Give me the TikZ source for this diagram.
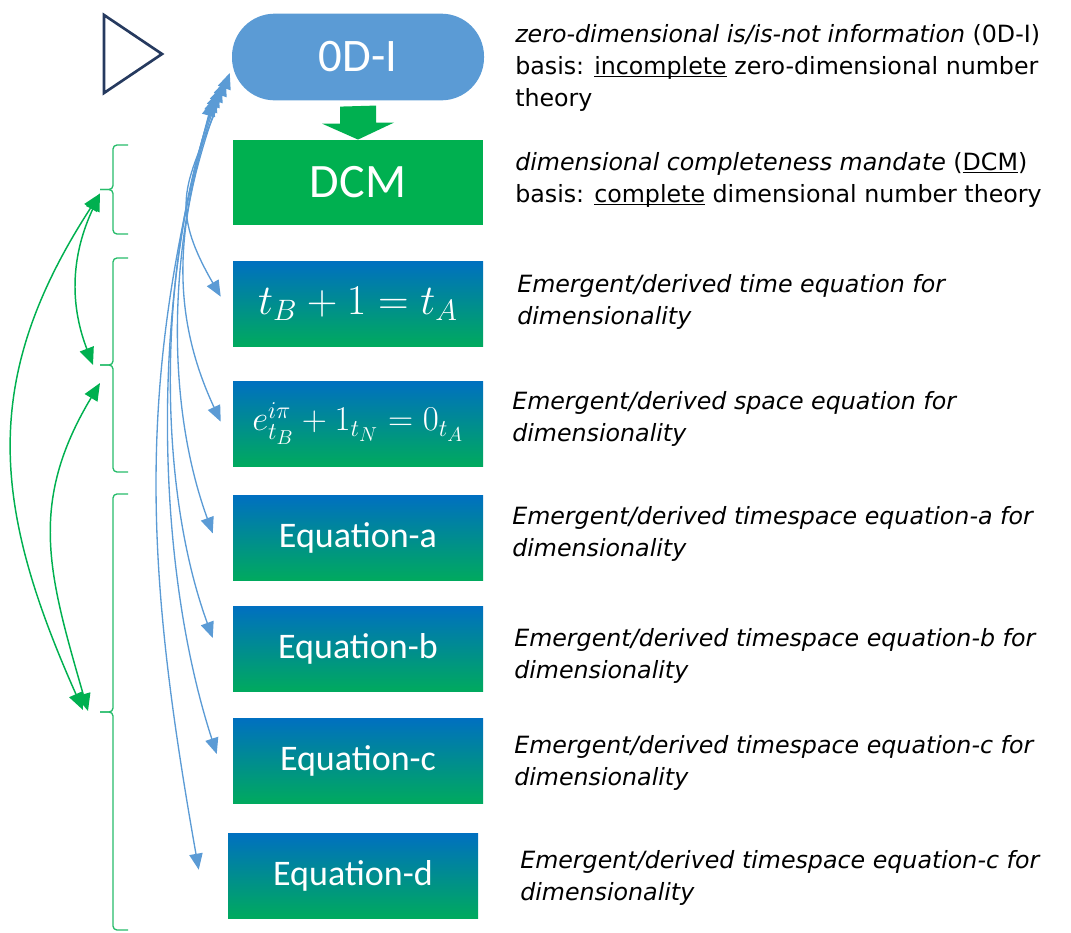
\documentclass[tikz,border=0pt]{standalone}
\usepackage{fontspec}
\setmainfont{DejaVu Sans}
\newfontfamily\boxfont{Carlito}
\usetikzlibrary{positioning,arrows.meta}

\definecolor{odiblue}{RGB}{91,155,213}
\definecolor{dcmgreen}{RGB}{0,176,80}
\definecolor{eqblue}{RGB}{0,112,192}
\definecolor{eqgreen}{RGB}{0,170,94}
\definecolor{trinavy}{RGB}{38,58,95}

\newcommand{\ulword}[1]{\underline{\smash{#1}}}

\tikzset{
 eqbox/.style={rectangle, minimum width=187.5pt, minimum height=63.75pt, inner sep=0pt,
   top color=eqblue, bottom color=eqgreen, text=white, font=\boxfont\fontsize{27}{30}\selectfont},
 note/.style={anchor=west, align=left, inner sep=0pt, font=\fontsize{17.8}{24}\selectfont},
 feed/.style={odiblue, line width=1pt, {Triangle[length=12pt,width=10pt]}-{Triangle[length=12pt,width=10pt]}},
 pair/.style={dcmgreen, line width=1.1pt, {Triangle[length=13pt,width=11pt]}-{Triangle[length=13pt,width=11pt]}},
 brc/.style={dcmgreen!85!white, line width=1pt, rounded corners=3pt}
}

\begin{document}
\begin{tikzpicture}[x=0.75pt,y=0.75pt,on grid]
 \useasboundingbox (0,0) rectangle (1071,-932);
 % play symbol
 \draw[trinavy, line width=2pt] (104,-15) -- (104,-93) -- (162,-54) -- cycle;

 \node[rectangle, rounded corners=32pt, fill=odiblue, minimum width=189pt, minimum height=65pt,
   text=white, font=\boxfont\fontsize{35}{38}\selectfont] (odi) at (358,-57) {0D-I};
 \node[rectangle, fill=dcmgreen, minimum width=187.5pt, minimum height=63.75pt, inner sep=0pt,
   text=white, font=\boxfont\fontsize{36}{40}\selectfont] (dcm) [below=94pt of odi] {DCM};
 \node[eqbox] (tba) [below=91pt of dcm] {\scalebox{1.28}{$t_B+1=t_A$}};
 \node[eqbox] (eul) [below=90pt of tba] {\scalebox{1.05}{$e^{i\pi}_{t_B}+1_{t_N}=0_{t_A}$}};
 \node[eqbox] (eqa) [below=86pt of eul] {Equation-a};
 \node[eqbox] (eqb) [below=83pt of eqa] {Equation-b};
 \node[eqbox] (eqc) [below=84pt of eqb] {Equation-c};
 \node[eqbox] (eqd) [below=86pt of eqc, xshift=-3.75pt] {Equation-d};

 % block arrow 0D-I -> DCM
 \fill[dcmgreen] ([shift={(-18,-6)}]odi.south) -- ++(0,-17) -- ++(-18,0) -- (dcm.north)
   -- ++(36,17) -- ++(-18,0) -- ++(0,17) -- cycle;

 % notes
 \node[note] (n0) at (515,-67.5) {\textit{zero-dimensional is/is-not information} (0D-I)\\
   basis: \ulword{incomplete} zero-dimensional number\\theory};
 \node[note] (n1) at (515,-180) {\textit{dimensional completeness mandate} (\ulword{DCM})\\
   basis: \ulword{complete} dimensional number theory};
 \node[note] (n2) at (517,-301.5) {\textit{Emergent/derived time equation for}\\\textit{dimensionality}};
 \node[note] (n3) at (512,-419) {\textit{Emergent/derived space equation for}\\\textit{dimensionality}};
 \node[note] (n4) at (512,-534) {\textit{Emergent/derived timespace equation-a for}\\\textit{dimensionality}};
 \node[note] (n5) at (514,-656) {\textit{Emergent/derived timespace equation-b for}\\\textit{dimensionality}};
 \node[note] (n6) at (514,-762.5) {\textit{Emergent/derived timespace equation-c for}\\\textit{dimensionality}};
 \node[note] (n7) at (520,-877.5) {\textit{Emergent/derived timespace equation-c for}\\\textit{dimensionality}};

 % braces
 \foreach \t/\b/\n in {145/234/b1, 258/472/b2, 494/930/b3}{
   \pgfmathsetmacro\m{(\t+\b)/2}
   \draw[brc] (128,-\t) -| (113,-\m) -- (100,-\m);
   \draw[brc] (128,-\b) -| (113,-\m) -- (100,-\m);
   \coordinate (\n) at (100,-\m);
 }

 % green links between the braces
 \draw[pair] ([shift={(0,-4)}]b1) to[out=245,in=111] ([shift={(-7,0)}]b2);
 \draw[pair] ([shift={(0,-4)}]b1) to[out=237,in=114,looseness=1.1] ([shift={(-17,2)}]b3);
 \draw[pair] ([shift={(0,-18)}]b2) to[out=239,in=106,looseness=1.1] ([shift={(-12,1)}]b3);

 % blue links from 0D-I
 \path[feed]
  ([shift={(-2,-16)}]odi.west) edge[out=250,in=120,looseness=1.3] ([shift={(-12,7)}]tba.west)
  ([shift={(-6,-23)}]odi.west) edge[out=250,in=115] ([shift={(-12,2)}]eul.west)
  ([shift={(-10,-29)}]odi.west) edge[out=250,in=110,looseness=0.85] ([shift={(-20,5)}]eqa.west)
  ([shift={(-13,-34)}]odi.west) edge[out=250,in=110,looseness=0.8] ([shift={(-20,11)}]eqb.west)
  ([shift={(-16,-39)}]odi.west) edge[out=252,in=108,looseness=0.8] ([shift={(-16,7)}]eqc.west)
  ([shift={(-19,-43)}]odi.west) edge[out=255,in=100] ([shift={(-29,6)}]eqd.west);
\end{tikzpicture}
\end{document}
